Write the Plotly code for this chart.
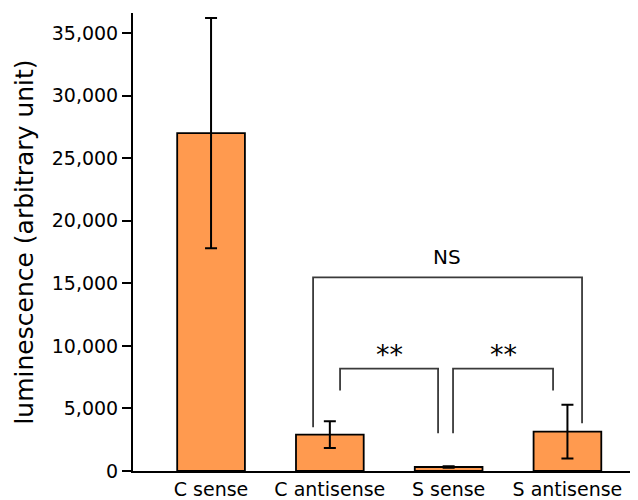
import plotly.graph_objects as go

categories = ["C sense", "C antisense", "S sense", "S antisense"]
values = [27000, 2900, 320, 3150]
errors = [9200, 1070, 60, 2150]
y_ticks = [0, 5000, 10000, 15000, 20000, 25000, 30000, 35000]

# significance brackets: (x_left, x_right, y_top, y_left_bottom, y_right_bottom, label, label_x, label_y, size)
brackets = [
    (0.859, 3.123, 15480, 3490, 3810, "NS", 1.987, 17070, 20),
    (1.086, 1.911, 8180, 6430, 3020, "**", 1.503, 9300, 27),
    (2.037, 2.879, 8180, 3020, 6430, "**", 2.458, 9300, 27),
]

FONT = "DejaVu Sans"

fig = go.Figure()
fig.add_trace(go.Bar(
    x=list(range(len(categories))),
    y=values,
    width=0.57,
    marker=dict(color="#ff9a4f", line=dict(color="black", width=1.8)),
    error_y=dict(type="data", array=errors, visible=True, color="black",
                 thickness=2, width=6),
))

shapes = []
annotations = []
for xl, xr, yt, ylb, yrb, lab, lx, ly, fs in brackets:
    shapes.append(dict(
        type="path", xref="x", yref="y",
        path=f"M {xl} {ylb} L {xl} {yt} L {xr} {yt} L {xr} {yrb}",
        line=dict(color="#3a3a3a", width=1.8),
    ))
    annotations.append(dict(
        x=lx, y=ly, xref="x", yref="y", text=lab, showarrow=False,
        font=dict(family=FONT, size=fs, color="black"),
    ))

fig.update_layout(
    width=630, height=492,
    margin=dict(l=125, r=0, t=5, b=26),
    plot_bgcolor="white", paper_bgcolor="white",
    showlegend=False,
    shapes=shapes,
    annotations=annotations,
    font=dict(family=FONT, color="black"),
)
fig.update_xaxes(
    range=[-0.657, 3.594],
    tickmode="array", tickvals=list(range(len(categories))), ticktext=categories,
    ticks="", showline=True, linecolor="black", linewidth=2,
    showgrid=False, zeroline=False,
    tickfont=dict(family=FONT, size=19, color="black"),
)
fig.update_yaxes(
    range=[0, 36600],
    tickmode="array", tickvals=y_ticks, tickformat=",d",
    ticks="outside", ticklen=9, tickwidth=2, tickcolor="black",
    showline=True, linecolor="black", linewidth=2,
    showgrid=False, zeroline=False,
    tickfont=dict(family=FONT, size=19, color="black"),
    title=dict(text="luminescence (arbitrary unit)",
               font=dict(family=FONT, size=25, color="black"), standoff=11),
)

fig.write_html("out.html")
